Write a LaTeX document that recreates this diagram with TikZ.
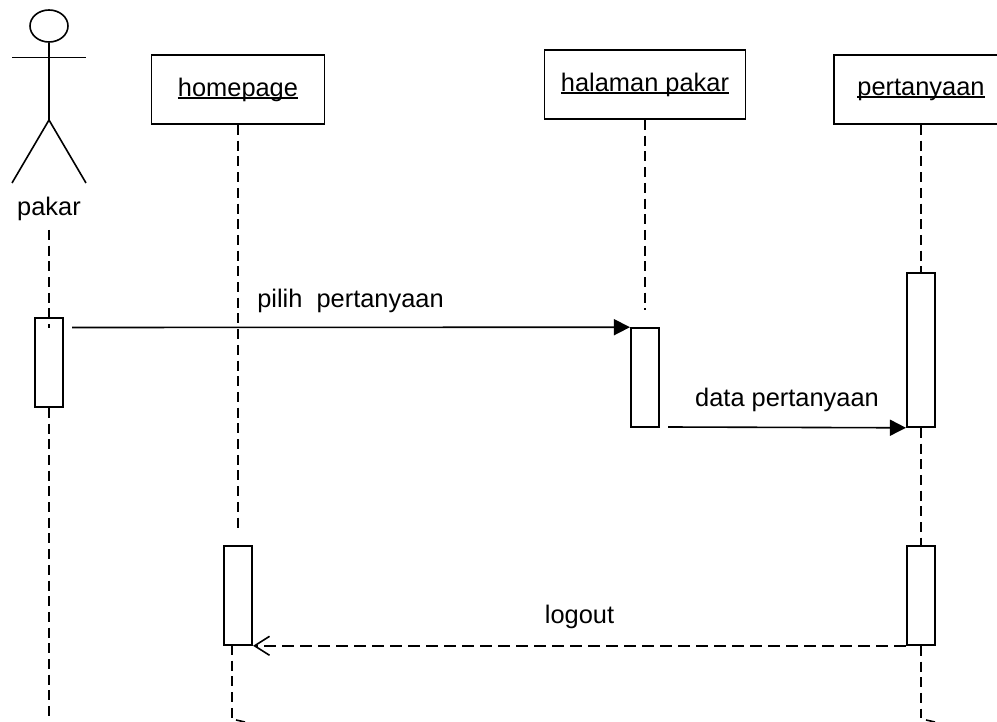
\documentclass[tikz,border=0pt]{standalone}
\usepackage{fontspec}
\setmainfont{Liberation Sans}
\usepackage{tikz}
\usetikzlibrary{arrows.meta,shapes.geometric}
\newcommand{\objname}[1]{\raisebox{-2pt}{\setbox0\hbox{#1}\rlap{\rule[-2.6pt]{\wd0}{1.3pt}}\box0}}

\begin{document}
\begin{tikzpicture}[x=1pt,y=-1pt,font=\fontsize{25.4}{30}\selectfont,line width=1.6pt]
    \tikzstyle{object box}=[rectangle,draw,inner sep=0,minimum height=69.5pt]
    \tikzstyle{active bar}=[rectangle,draw,inner sep=0,minimum width=28.5pt]
    \tikzstyle{life line}=[dash pattern=on 10pt off 5.7pt]
    \tikzstyle{call line}=[-{Triangle[length=16pt,width=16pt]}]
    \tikzstyle{back line}=[dash pattern=on 12pt off 6pt,-{Straight Barb[length=15pt,width=19pt]}]
    \tikzstyle{tail line}=[line width=1.6pt]

    \clip (0,0) rectangle (997,722);

    \node(head)[ellipse,draw,inner sep=0,minimum width=38pt,minimum height=32pt] at (49,26){};
    \coordinate(neck) at (49,57.5);
    \coordinate(hip) at (49,120);
    \coordinate(handl) at (12,57.5);
    \coordinate(handr) at (86,57.5);
    \coordinate(footl) at (12,183);
    \coordinate(footr) at (86,183);
    \draw (head.south) -- (hip);
    \draw (handl) -- (handr);
    \draw (footl) -- (hip) -- (footr);
    \node(pakar)[inner sep=0] at (49,209){pakar};

    \node(homepage)[object box,minimum width=173pt] at (238,89.5){\objname{homepage}};
    \node(halaman)[object box,minimum width=201pt] at (645,84.5){\objname{halaman pakar}};
    \node(pertanyaan)[object box,minimum width=174pt] at (921,89.5){\objname{pertanyaan}};

    \node(bar1)[active bar,minimum height=89pt] at (49,362.5){};
    \node(bar2)[active bar,minimum height=99pt] at (645,377.5){};
    \node(bar3)[active bar,minimum height=154pt] at (921,350){};
    \node(bar4)[active bar,minimum height=99pt] at (238,595.5){};
    \node(bar5)[active bar,minimum height=99pt] at (921,595.5){};

    \coordinate(pakar top) at (49,230);
    \coordinate(pakar stub) at (49,328);
    \coordinate(pakar end) at (49,718);
    \coordinate(homepage end) at (238,530);
    \coordinate(halaman end) at (645,310);
    \coordinate(bar4 tail) at (232,645);
    \coordinate(bar4 end) at (232,718);
    \coordinate(bar4 hook) at (236,720);
    \coordinate(bar4 hook end) at (245,722);
    \coordinate(bar5 end) at (921,718);
    \coordinate(bar5 hook) at (926,720);
    \coordinate(bar5 hook end) at (935,722);
    \coordinate(pilih start) at (72,327.5);
    \coordinate(data start) at (668,427);

    \draw[life line] (pakar top) -- (pakar stub);
    \draw[life line] (bar1.south) -- (pakar end);
    \draw[life line] (homepage.south) -- (homepage end);
    \draw[life line] (halaman.south) -- (halaman end);
    \draw[life line] (pertanyaan.south) -- (bar3.north);
    \draw[life line] (bar3.south) -- (bar5.north);
    \draw[life line] (bar4 tail) -- (bar4 end);
    \draw[life line] (bar5.south) -- (bar5 end);
    \draw[tail line] (bar4 hook) -- (bar4 hook end);
    \draw[tail line] (bar5 hook) -- (bar5 hook end);

    \draw[call line] (pilih start) -- (bar2.north west);
    \draw[call line] (data start) -- (bar3.south west);
    \draw[back line] (bar5.south west) -- (bar4.south east);

    \node(pilih)[inner sep=0] at (350.5,301){pilih~~pertanyaan};
    \node(data)[inner sep=0] at (787,400){data pertanyaan};
    \node(logout)[inner sep=0] at (579.5,617){logout};
\end{tikzpicture}
\end{document}
